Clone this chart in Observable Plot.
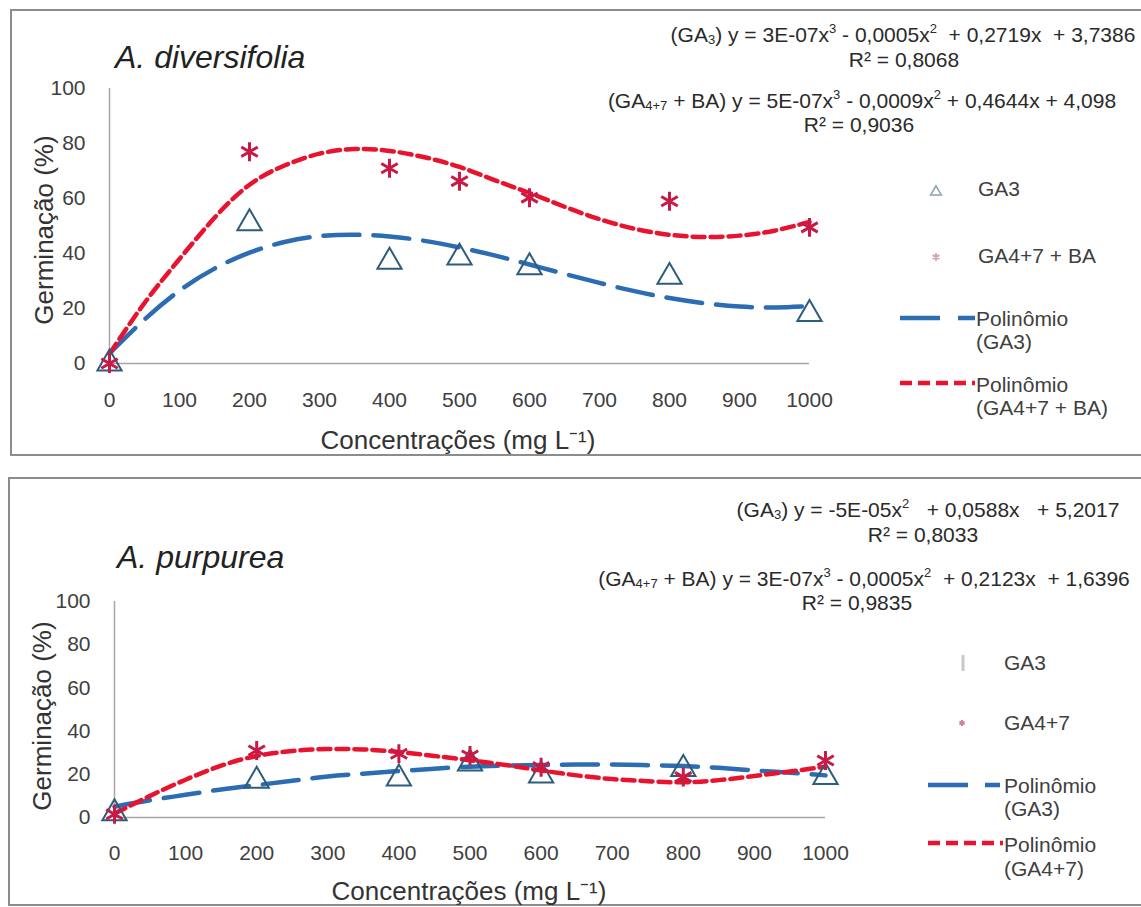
<!DOCTYPE html>
<html><head><meta charset="utf-8">
<script src="https://cdn.jsdelivr.net/npm/d3@7"></script>
<script src="https://cdn.jsdelivr.net/npm/@observablehq/plot@0.6"></script>
<style>
html,body{margin:0;padding:0;background:#fff;}
body{width:1141px;height:907px;overflow:hidden;position:relative;font-family:"Liberation Sans",Arial,sans-serif;}
.panel{position:absolute;box-sizing:border-box;border:2px solid #8c8c8c;background:#fff;}
.plot{position:absolute;left:0;}
#overlay{position:absolute;left:0;top:0;pointer-events:none;}
</style></head>
<body>
<div class="panel" style="left:10px;top:9px;width:1140px;height:447px;"></div>
<div class="panel" style="left:8px;top:477px;width:1142px;height:429px;"></div>
<div id="top" class="plot" style="top:0px;"></div>
<div id="bottom" class="plot" style="top:470px;"></div>
<svg id="overlay" width="1141" height="907"></svg>
<script>
// ---------- data ----------
const concentration = [0, 200, 400, 500, 600, 800, 1000];
const xTicks = [0, 100, 200, 300, 400, 500, 600, 700, 800, 900, 1000];
const yTicks = [0, 20, 40, 60, 80, 100];
const trendX = [0, 50, 100, 150, 200, 250, 300, 350, 400, 450, 500, 550, 600, 650, 700, 750, 800, 850, 900, 950, 1000];

// A. diversifolia
const divGA3 = [0, 51, 37, 38.5, 35, 31.5, 18];
const divGA47BA = [0, 77, 71, 66.3, 60.3, 59, 49.5];
const divTrendGA3 = [3.7, 16, 26.5, 34.5, 40.3, 44.2, 46.3, 46.8, 46.2, 44.6, 42.2, 39.3, 36, 32.6, 29.3, 26.3, 23.8, 21.9, 20.7, 20.4, 20.9];
const divTrendGA47BA = [3.5, 22, 38, 53, 65, 72, 76.3, 78, 77.3, 75, 71.5, 66.7, 62, 57, 52.5, 49, 46.8, 46, 46.5, 48.3, 51.5];

// A. purpurea
const purGA3 = [2, 17, 18, 25, 19.4, 22.5, 18.7];
const purGA47 = [1.5, 31, 29.5, 28.7, 23.3, 18.7, 26.4];
const purTrendGA3 = [5, 8, 10.5, 13, 15, 17, 19, 20.3, 21.5, 22.6, 23.5, 24, 24.3, 24.5, 24.5, 24.2, 23.8, 23, 21.8, 20.7, 19.5];
const purTrendGA47 = [1.8, 10, 17.5, 24, 28.5, 30.8, 31.7, 31.5, 30.3, 28.5, 26.5, 24.3, 21.8, 19.5, 17.8, 16.8, 16.3, 17.3, 19.2, 21.3, 23.5];

const titles = ["A. diversifolia", "A. purpurea"];
const xTitle = "Concentrações (mg L⁻¹)";
const yTitle = "Germinação (%)";
const legendTop = ["GA3", "GA4+7 + BA", "Polinômio", "(GA3)", "Polinômio", "(GA4+7 + BA)"];
const legendBottom = ["GA3", "GA4+7", "Polinômio", "(GA3)", "Polinômio", "(GA4+7)"];

const BLUE = "#2b6cb2", TEAL = "#2c5d7c", RED = "#e8132e", CRIMSON = "#c81a44";
const FONT = "Liberation Sans, Arial, sans-serif";
const RED_DASH = "12,6", BLUE_DASH = "36,14";

function chart({ga3, ga47, t3, t47, height, mt, mb, ml, mr, pad}) {
  const pts = concentration.map((c, i) => ({c, ga3: ga3[i], ga47: ga47[i]}));
  const tr = trendX.map((c, i) => ({c, t3: t3[i], t47: t47[i]}));
  return Plot.plot({
    width: 1141, height,
    marginTop: mt, marginBottom: mb, marginLeft: ml, marginRight: mr,
    style: {background: "transparent", fontFamily: FONT, fontSize: "21px", color: "#404040", overflow: "visible"},
    x: {domain: [0, 1000], ticks: xTicks, tickSize: 0, tickPadding: pad, label: null, tickFormat: d => String(d)},
    y: {domain: [0, 100], ticks: yTicks, tickSize: 0, tickPadding: 24, label: null, tickFormat: d => String(d)},
    marks: [
      Plot.ruleY([0], {stroke: "#a6a6a6", strokeWidth: 1.5}),
      Plot.ruleX([0], {stroke: "#a6a6a6", strokeWidth: 1.5}),
      Plot.line(tr, {x: "c", y: "t3", stroke: BLUE, strokeWidth: 4.5, strokeDasharray: BLUE_DASH, curve: "natural"}),
      Plot.line(tr, {x: "c", y: "t47", stroke: RED, strokeWidth: 4.5, strokeDasharray: RED_DASH, curve: "natural"}),
      Plot.dot(pts, {x: "c", y: "ga3", symbol: "triangle", r: 9, stroke: TEAL, strokeWidth: 2, fill: "none"}),
      Plot.dot(pts, {x: "c", y: "ga47", symbol: "asterisk", r: 9, stroke: CRIMSON, strokeWidth: 3})
    ]
  });
}

document.getElementById("top").append(chart({
  ga3: divGA3, ga47: divGA47BA, t3: divTrendGA3, t47: divTrendGA47BA,
  height: 460, mt: 88, mb: 97, ml: 109, mr: 332, pad: 29
}));
document.getElementById("bottom").append(chart({
  ga3: purGA3, ga47: purGA47, t3: purTrendGA3, t47: purTrendGA47,
  height: 437, mt: 131, mb: 90, ml: 114, mr: 316, pad: 28
}));

// ---------- annotations (titles, equations, legend) ----------
const svg = d3.select("#overlay");
function txt(x, y, s, opts = {}) {
  return svg.append("text").attr("x", x).attr("y", y)
    .attr("font-family", FONT).attr("font-size", opts.size || 20)
    .attr("fill", opts.fill || "#333").attr("text-anchor", opts.anchor || "start")
    .attr("dominant-baseline", opts.baseline || "central")
    .attr("font-style", opts.italic ? "italic" : "normal")
    .attr("transform", opts.rotate ? `rotate(-90 ${x} ${y})` : null)
    .style("white-space", "pre").text(s);
}
function eq(x, y, parts, size) {
  const t = svg.append("text").attr("x", x).attr("y", y).attr("font-family", FONT)
    .attr("font-size", size).attr("fill", "#2a2a2a").attr("text-anchor", "middle")
    .attr("dominant-baseline", "central").style("white-space", "pre");
  let cur = 0;
  parts.forEach(([s, k]) => {
    const want = k === "sub" ? 5 : k === "sup" ? -6 : 0;
    const ts = t.append("tspan").attr("dy", want - cur).text(s);
    if (k) ts.attr("font-size", size * 0.62);
    cur = want;
  });
}

// panel titles
txt(115, 68, titles[0], {size: 32, italic: true, baseline: "alphabetic", fill: "#222"});
txt(117, 568, titles[1], {size: 32, italic: true, baseline: "alphabetic", fill: "#222"});
// axis titles
txt(458, 440, xTitle, {size: 26, anchor: "middle", fill: "#333"});
txt(469, 891, xTitle, {size: 26, anchor: "middle", fill: "#333"});
txt(44, 230, yTitle, {size: 26, anchor: "middle", rotate: true, fill: "#333"});
txt(42, 716, yTitle, {size: 26, anchor: "middle", rotate: true, fill: "#333"});

// equations
const ES = 21;
eq(903, 34, [["(GA"], ["3", "sub"], [") y = 3E-07x"], ["3", "sup"], [" - 0,0005x"], ["2", "sup"], ["  + 0,2719x  + 3,7386"]], ES);
eq(904, 59, [["R² = 0,8068"]], ES);
eq(862, 100, [["(GA"], ["4+7", "sub"], [" + BA) y = 5E-07x"], ["3", "sup"], [" - 0,0009x"], ["2", "sup"], [" + 0,4644x + 4,098"]], ES);
eq(859, 124, [["R² = 0,9036"]], ES);
eq(928, 509, [["(GA"], ["3", "sub"], [") y = -5E-05x"], ["2", "sup"], ["   + 0,0588x   + 5,2017"]], ES);
eq(923, 534, [["R² = 0,8033"]], ES);
eq(864, 578, [["(GA"], ["4+7", "sub"], [" + BA) y = 3E-07x"], ["3", "sup"], [" - 0,0005x"], ["2", "sup"], ["  + 0,2123x  + 1,6396"]], ES);
eq(857, 602, [["R² = 0,9835"]], ES);

// legends
const LS = 21, LC = "#404040";
// top legend
svg.append("path").attr("d", d3.symbol(d3.symbolTriangle, 50)()).attr("transform", "translate(936,192)")
  .attr("fill", "none").attr("stroke", "#8fa4ad").attr("stroke-width", 1.5);
svg.append("path").attr("d", d3.symbol(d3.symbolAsterisk, 40)()).attr("transform", "translate(936,257)")
  .attr("stroke", "#d9a0b0").attr("stroke-width", 2);
svg.append("line").attr("x1", 900).attr("x2", 975).attr("y1", 318).attr("y2", 318)
  .attr("stroke", BLUE).attr("stroke-width", 4.5).attr("stroke-dasharray", "40,18");
svg.append("line").attr("x1", 900).attr("x2", 975).attr("y1", 383).attr("y2", 383)
  .attr("stroke", RED).attr("stroke-width", 4.5).attr("stroke-dasharray", RED_DASH);
txt(978, 188, legendTop[0], {size: LS, fill: LC});
txt(978, 255, legendTop[1], {size: LS, fill: LC});
txt(976, 318, legendTop[2], {size: LS, fill: LC});
txt(976, 341, legendTop[3], {size: LS, fill: LC});
txt(976, 384, legendTop[4], {size: LS, fill: LC});
txt(976, 407, legendTop[5], {size: LS, fill: LC});
// bottom legend
svg.append("line").attr("x1", 963).attr("x2", 963).attr("y1", 655).attr("y2", 671)
  .attr("stroke", "#c9c9c9").attr("stroke-width", 3);
svg.append("path").attr("d", d3.symbol(d3.symbolAsterisk, 25)()).attr("transform", "translate(962,723)")
  .attr("stroke", "#d58097").attr("stroke-width", 2);
svg.append("line").attr("x1", 928).attr("x2", 1000).attr("y1", 785).attr("y2", 785)
  .attr("stroke", BLUE).attr("stroke-width", 4.5).attr("stroke-dasharray", "40,17");
svg.append("line").attr("x1", 928).attr("x2", 1003).attr("y1", 843).attr("y2", 843)
  .attr("stroke", RED).attr("stroke-width", 4.5).attr("stroke-dasharray", RED_DASH);
txt(1004, 662, legendBottom[0], {size: LS, fill: LC});
txt(1004, 722, legendBottom[1], {size: LS, fill: LC});
txt(1004, 785, legendBottom[2], {size: LS, fill: LC});
txt(1004, 808, legendBottom[3], {size: LS, fill: LC});
txt(1004, 844, legendBottom[4], {size: LS, fill: LC});
txt(1004, 868, legendBottom[5], {size: LS, fill: LC});
</script>
</body></html>
